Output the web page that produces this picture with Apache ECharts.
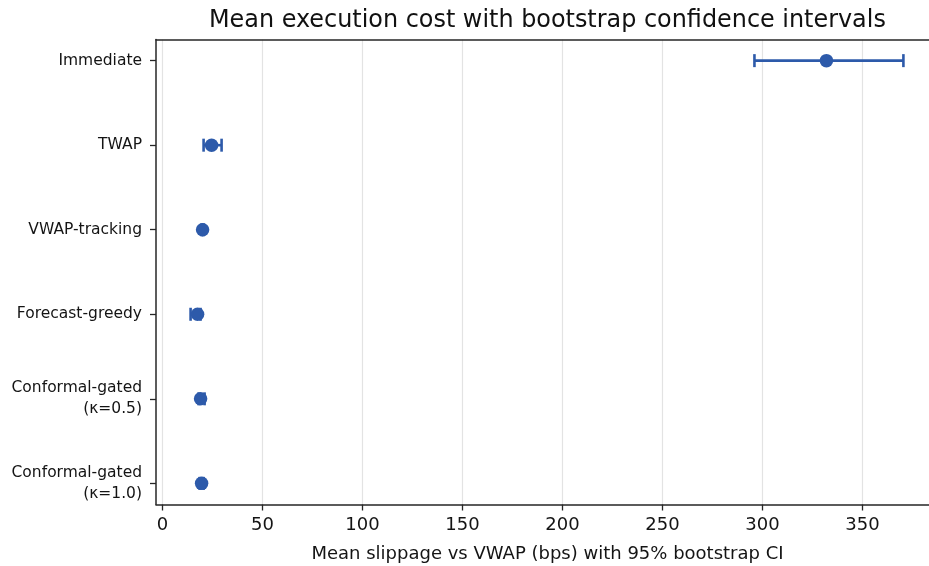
<!DOCTYPE html>
<html>
<head>
<meta charset="utf-8">
<script src="https://cdn.jsdelivr.net/npm/echarts@6/dist/echarts.min.js"></script>
<style>
  html, body { margin: 0; padding: 0; background: #fff; }
  #chart { width: 929px; height: 566px; }
</style>
</head>
<body>
<div id="chart"></div>
<script>
// Strategies, top to bottom
const categories = [
  'Immediate',
  'TWAP',
  'VWAP-tracking',
  'Forecast-greedy',
  'Conformal-gated\n(κ=0.5)',
  'Conformal-gated\n(κ=1.0)'
];
// Mean slippage (bps) and 95% bootstrap CI bounds
const meanCost = [332, 24.5, 20, 17.5, 19, 19.5];
const ciLow    = [296, 20.5, 19.5, 14, 18, 18.5];
const ciHigh   = [370.5, 29.5, 20.5, 19, 21, 20.5];
// x tick values
const xTicks = [0, 50, 100, 150, 200, 250, 300, 350];

const rowIdx = categories.map((_, i) => i);
const blue = '#2d5aaa';
const ink = '#141414';
const spine = '#262626';
const font = 'DejaVu Sans';
const xMin = -3.3, xMax = 388.3;

const chart = echarts.init(document.getElementById('chart'), null, { renderer: 'canvas' });

chart.setOption({
  animation: false,
  backgroundColor: '#ffffff',
  title: {
    text: 'Mean execution cost with bootstrap confidence intervals',
    left: 204,
    top: 4,
    textStyle: { fontFamily: font, fontSize: 23.9, fontWeight: 'normal', color: '#111' }
  },
  grid: {
    left: 156,
    top: 39.5,
    width: 783,
    height: 465,
    show: false,
    outerBoundsMode: 'none',
    containLabel: false
  },
  xAxis: [
    {
      type: 'value',
      min: xMin,
      max: xMax,
      name: 'Mean slippage vs VWAP (bps) with 95% bootstrap CI',
      nameLocation: 'middle',
      nameGap: 41,
      nameTextStyle: { fontFamily: font, fontSize: 18, color: ink },
      axisLine: { show: true, onZero: false, lineStyle: { color: spine, width: 1.5 } },
      axisTick: { show: true, length: 6, customValues: xTicks, lineStyle: { color: spine, width: 1.3 } },
      axisLabel: {
        customValues: xTicks,
        margin: 12,
        fontFamily: font,
        fontSize: 18,
        color: ink
      },
      splitLine: { show: true, lineStyle: { color: '#e3e3e3', width: 1.2 } }
    },
    {
      // top spine only
      type: 'value',
      position: 'top',
      min: xMin,
      max: xMax,
      axisLine: { show: true, onZero: false, lineStyle: { color: spine, width: 1.5 } },
      axisTick: { show: false },
      axisLabel: { show: false },
      splitLine: { show: false }
    }
  ],
  yAxis: {
    type: 'value',
    min: -0.25,
    max: 5.25,
    inverse: true,
    axisLine: { show: true, onZero: false, lineStyle: { color: spine, width: 1.5 } },
    axisTick: { show: true, length: 6, customValues: rowIdx, lineStyle: { color: spine, width: 1.3 } },
    axisLabel: {
      customValues: rowIdx,
      margin: 14,
      fontFamily: font,
      fontSize: 15.5,
      lineHeight: 21,
      color: ink,
      align: 'right',
      formatter: (v) => categories[Math.round(v)]
    },
    splitLine: { show: false }
  },
  series: [
    {
      // horizontal CI bars with end caps
      type: 'custom',
      xAxisIndex: 0,
      data: rowIdx.map(i => [ciLow[i], ciHigh[i], i]),
      encode: { x: [0, 1], y: 2 },
      renderItem: function (params, api) {
        const y = api.value(2);
        const p0 = api.coord([api.value(0), y]);
        const p1 = api.coord([api.value(1), y]);
        const h = 6.5;
        const style = { stroke: blue, lineWidth: 2.6, fill: null };
        return {
          type: 'group',
          children: [
            { type: 'line', shape: { x1: p0[0], y1: p0[1], x2: p1[0], y2: p1[1] }, style },
            { type: 'line', shape: { x1: p0[0], y1: p0[1] - h, x2: p0[0], y2: p0[1] + h }, style },
            { type: 'line', shape: { x1: p1[0], y1: p1[1] - h, x2: p1[0], y2: p1[1] + h }, style }
          ]
        };
      },
      z: 2
    },
    {
      type: 'scatter',
      xAxisIndex: 0,
      data: rowIdx.map(i => [meanCost[i], i]),
      symbol: 'circle',
      symbolSize: 13.5,
      itemStyle: { color: blue, opacity: 1 },
      z: 3
    }
  ]
});
</script>
</body>
</html>
